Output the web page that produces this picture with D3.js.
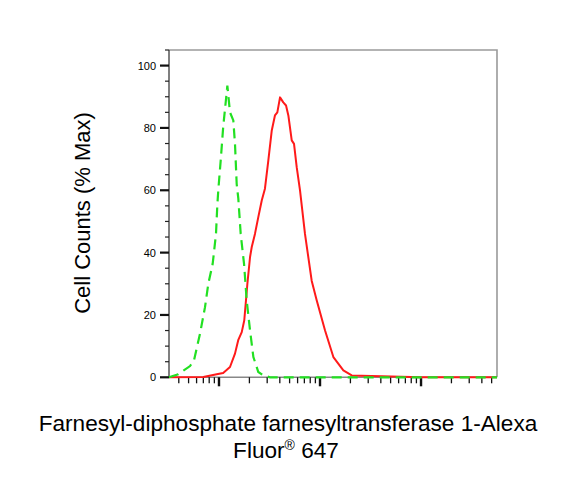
<!DOCTYPE html>
<html>
<head>
<meta charset="utf-8">
<script src="https://cdn.jsdelivr.net/npm/d3@7"></script>
<style>
  html, body { margin: 0; padding: 0; background: #fff; }
  svg { display: block; }
  text { font-family: Arial, "Liberation Sans", sans-serif; }
</style>
</head>
<body>
<svg id="chart" width="585" height="480"></svg>
<script>
// ---- data (fluorescence intensity, % of max) ----
const controlX = [32, 39.5, 51.7, 56.5, 64.9, 72.7, 78.4, 86.6, 93.4, 96.2, 98.4, 104, 110, 117, 121, 128.5, 138.6, 144, 149.7, 155.3, 164, 177, 188, 203, 219, 245, 275, 320, 1000, 10000, 56500];
const controlY = [0, 1, 3.6, 5.4, 14, 22.5, 30, 36.4, 46, 55, 60, 69.6, 80.2, 88.8, 93.6, 85, 82.4, 74.9, 62, 57.4, 46, 36.4, 24.7, 15, 6.5, 1.7, 0.6, 0, 0, 0, 0];
const sampleX = [32, 70, 95, 110, 128.5, 144, 155, 168, 178, 185, 191, 203, 211, 227, 245, 265, 285, 308, 333, 358, 378, 402, 433, 461, 486, 525, 553, 588, 634, 710, 827, 927, 1122, 1356, 1702, 2061, 10000, 56500];
const sampleY = [0, 0.1, 1, 1.4, 3.3, 7.6, 11.9, 14.5, 18.3, 24.7, 30, 38.6, 41.8, 46, 51.4, 56.7, 60.5, 69.6, 79.2, 84, 85, 89.8, 88.2, 87.2, 84, 76, 74.9, 67.4, 60, 46, 31, 24.7, 15, 6.5, 2.2, 0.6, 0, 0];
const yTickLabels = [0, 20, 40, 60, 80, 100];
const xDomain = [32, 56500];
const yDomain = [0, 105];
const xTitle1 = "Farnesyl-diphosphate farnesyltransferase 1-Alexa";
const xTitle2a = "Fluor";
const xTitle2sup = "®";
const xTitle2b = " 647";
const yTitle = "Cell Counts (% Max)";

// ---- layout ----
const svg = d3.select("#chart");
const L = 169, T = 50, R = 497, B = 377.3;
const x = d3.scaleLog().domain(xDomain).range([L, R]);
const y = d3.scaleLinear().domain(yDomain).range([B, T]);

// frame (top and right)
svg.append("path")
  .attr("d", `M${L},${T}H${R}V${B}`)
  .attr("fill", "none").attr("stroke", "#9a9a9a").attr("stroke-width", 1.6);

// y axis
const yMinor = d3.range(0, 106, 5);
const yAxisG = svg.append("g");
yAxisG.append("line").attr("x1", L).attr("x2", L).attr("y1", T).attr("y2", B)
  .attr("stroke", "#555").attr("stroke-width", 1.5);
yAxisG.selectAll("line.minor").data(yMinor.filter(v => v % 20 !== 0)).join("line")
  .attr("class", "minor")
  .attr("x1", L - 4).attr("x2", L).attr("y1", d => y(d)).attr("y2", d => y(d))
  .attr("stroke", "#222").attr("stroke-width", 1.2);
yAxisG.selectAll("line.major").data(yTickLabels).join("line")
  .attr("class", "major")
  .attr("x1", L - 9).attr("x2", L).attr("y1", d => y(d)).attr("y2", d => y(d))
  .attr("stroke", "#111").attr("stroke-width", 2.2);
yAxisG.selectAll("text").data(yTickLabels).join("text")
  .attr("x", L - 13).attr("y", d => y(d) + 4)
  .attr("text-anchor", "end").attr("font-size", 11).attr("fill", "#000")
  .text(d => d);

// x axis (log, no labels)
const xTicks = [];
for (let e = 1; e <= 4; e++) for (let k = 1; k <= 9; k++) {
  const v = k * Math.pow(10, e);
  if (v >= xDomain[0] && v <= xDomain[1]) xTicks.push({v, major: k === 1});
}
const xAxisG = svg.append("g");
xAxisG.append("line").attr("x1", L).attr("x2", R).attr("y1", B).attr("y2", B)
  .attr("stroke", "#888").attr("stroke-width", 1.4);
xAxisG.selectAll("line.t").data(xTicks).join("line")
  .attr("class", "t")
  .attr("x1", d => x(d.v)).attr("x2", d => x(d.v))
  .attr("y1", B).attr("y2", d => d.major ? B + 9 : B + 6)
  .attr("stroke", "#111").attr("stroke-width", d => d.major ? 2.4 : 1.3);

// lines
const line = d3.line().x(d => x(d[0])).y(d => y(d[1]));
svg.append("path").datum(d3.zip(sampleX, sampleY))
  .attr("d", line).attr("fill", "none")
  .attr("stroke", "#ff1a1a").attr("stroke-width", 2).attr("stroke-linejoin", "round");
svg.append("path").datum(d3.zip(controlX, controlY))
  .attr("d", line).attr("fill", "none")
  .attr("stroke", "#22e022").attr("stroke-width", 2.2)
  .attr("stroke-dasharray", "10,6");

// titles
svg.append("text").attr("x", 288).attr("y", 431).attr("text-anchor", "middle")
  .attr("font-size", 22.6).attr("fill", "#000").text(xTitle1);
const t2 = svg.append("text").attr("x", 286).attr("y", 458).attr("text-anchor", "middle")
  .attr("font-size", 22.6).attr("fill", "#000");
t2.append("tspan").text(xTitle2a);
t2.append("tspan").attr("font-size", 14).attr("dy", -8).text(xTitle2sup);
t2.append("tspan").attr("dy", 8).text(xTitle2b);

svg.append("text").attr("transform", "translate(90,213) rotate(-90)")
  .attr("text-anchor", "middle").attr("font-size", 22).attr("fill", "#000")
  .text(yTitle);
</script>
</body>
</html>
